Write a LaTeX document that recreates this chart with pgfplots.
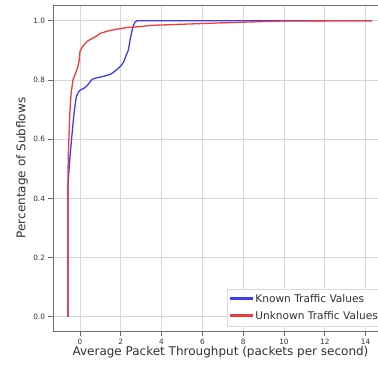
\documentclass[border=0pt]{standalone}
\usepackage{fontspec}
\setmainfont{DejaVu Sans}
\usepackage{pgfplots}
\pgfplotsset{compat=1.18}
\definecolor{kblue}{RGB}{60,60,245}
\definecolor{ured}{RGB}{240,60,60}
\definecolor{gridc}{RGB}{215,215,215}
\definecolor{spine}{RGB}{110,110,110}
\definecolor{txt}{RGB}{50,50,50}
\begin{document}
\begin{tikzpicture}
\useasboundingbox (-53pt,-37pt) rectangle (325pt,331pt);
\begin{axis}[
  at={(0pt,0pt)}, anchor=south west,
  scale only axis, width=335pt, height=326pt,
  xmin=-1.32, xmax=15.1, ymin=-0.048, ymax=1.053,
  xtick={0,2,4,6,8,10,12,14},
  ytick={0,0.2,0.4,0.6,0.8,1.0},
  yticklabel style={/pgf/number format/.cd, fixed, fixed zerofill, precision=1},
  /pgf/number format/assume math mode=true,
  tick label style={font=\fontsize{7.3}{8}\selectfont, text=txt},
  xtick pos=bottom, ytick pos=left,
  tick align=outside, major tick length=4.5pt,
  tick style={spine, line width=0.7pt},
  axis line style={spine, line width=0.9pt},
  grid=major, grid style={gridc, line width=0.8pt},
  xlabel={Average Packet Throughput (packets per second)},
  ylabel={Percentage of Subflows},
  label style={font=\fontsize{12}{14}\selectfont, text=txt},
  xlabel style={at={([yshift=-21pt]axis description cs:0.5,0)}, anchor=center},
  ylabel style={at={([xshift=-31pt]axis description cs:0,0.5)}, anchor=center},
  legend style={at={(rel axis cs:1,0)}, anchor=south east, xshift=-5pt, yshift=5pt,
    font=\fontsize{10.6}{12}\selectfont, draw=black!15, fill=white,
    inner xsep=3pt, inner ysep=3pt, row sep=3.5pt, cells={anchor=west}},
  legend cell align=left,
  legend image code/.code={\fill[#1] (0pt,-0.5pt) rectangle (22pt,1.3pt);},
]
\addplot[kblue, line width=1.3pt] coordinates {
(-0.58,0) (-0.58,0.45) (-0.50,0.53) (-0.41,0.60) (-0.29,0.687) (-0.18,0.743)
(-0.08,0.758) (0.0,0.765) (0.2,0.772) (0.33,0.779) (0.46,0.79) (0.57,0.80)
(0.7,0.805) (0.98,0.809) (1.31,0.815) (1.5,0.819) (1.8,0.834) (2.0,0.847)
(2.14,0.86) (2.25,0.88) (2.37,0.90) (2.5,0.95) (2.6,0.98) (2.70,0.995)
(2.8,1.0) (14.3,1.0)
};
\addlegendentry{\textcolor{txt}{Known Traffic Values}}
\addplot[ured, line width=1.3pt] coordinates {
(-0.59,0) (-0.59,0.45) (-0.57,0.55) (-0.54,0.60) (-0.50,0.68) (-0.45,0.74)
(-0.41,0.766) (-0.34,0.80) (-0.2,0.825) (-0.1,0.845) (-0.04,0.865) (0.0,0.895)
(0.1,0.91) (0.25,0.922) (0.41,0.933) (0.6,0.94) (0.82,0.948) (0.98,0.957)
(1.47,0.967) (2.29,0.977) (2.94,0.98) (3.43,0.984) (5.4,0.989) (7.5,0.994)
(9.95,0.999) (14.33,1.0)
};
\addlegendentry{\textcolor{txt}{Unknown Traffic Values}}
\end{axis}
\end{tikzpicture}
\end{document}
